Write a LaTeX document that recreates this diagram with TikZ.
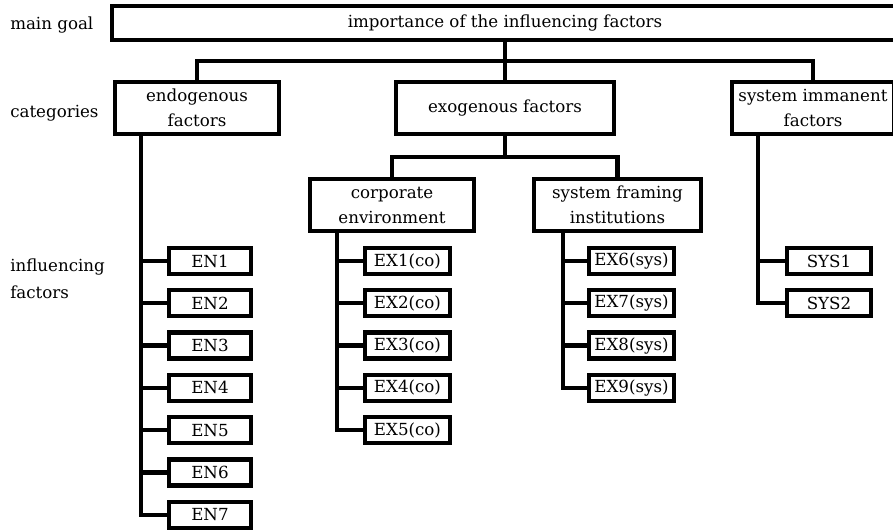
\documentclass[tikz,border=0pt]{standalone}
\usepackage{fontspec}
\setmainfont{DejaVu Serif}
\begin{document}
\begin{tikzpicture}[x=0.75pt,y=-0.75pt,
  box/.style={draw,line width=3.2pt,inner sep=0pt,align=center,font=\fontsize{12.5}{18.75}\selectfont},
  bx/.style 2 args={box,minimum width=#1*0.75pt,minimum height=#2*0.75pt},
  conn/.style={line width=3.2pt,line join=miter},
  lbl/.style={anchor=west,align=left,inner sep=0pt,font=\fontsize{12.5}{20}\selectfont}]
\clip (0,0) rectangle (893,531);
% labels
\node[lbl] (lmain) at (10,25) {main goal};
\node[lbl] (lcat) at (10,113) {categories};
\node[lbl] (linf) at (10,279) {influencing\\factors};
% main and categories
\node[bx={786}{34}] (main) at (505,23) {importance of the influencing factors};
\node[bx={164}{52}] (endo) at (197,108) {endogenous\\factors};
\node[bx={218}{52}] (exo) at (505,108) {exogenous factors};
\node[bx={162}{52}] (sysim) at (813,108) {system immanent\\factors};
\node[bx={164}{52}] (corp) at (392,205) {corporate\\environment};
\node[bx={167}{52}] (sysfr) at (617.5,205) {system framing\\institutions};
% leaves
\foreach \i in {1,...,7} \node[bx={82}{26}] (EN\i) at (210,{261+42.3*(\i-1)}) {EN\i};
\foreach \i in {1,...,5} \node[bx={85}{26}] (EX\i) at (407.5,{261+42.3*(\i-1)}) {EX\i(co)};
\foreach \i in {6,...,9} \node[bx={85}{26}] (EX\i) at (631.5,{261+42.3*(\i-6)}) {EX\i(sys)};
\foreach \i in {1,2} \node[bx={84}{26}] (SYS\i) at (829,{261+42.3*(\i-1)}) {SYS\i};
% connectors
\coordinate (bar1) at (505,61);
\coordinate (bar2) at (505,157);
\draw[conn] (main.south) -- (exo.north);
\draw[conn] (endo.north) |- (bar1) -| (sysim.north);
\draw[conn] (exo.south) -- (bar2);
\draw[conn] (corp.north) |- (bar2) -| (sysfr.north);
\coordinate (ent) at ([xshift=21pt]endo.south west);
\coordinate (cot) at ([xshift=21.75pt]corp.south west);
\coordinate (sft) at ([xshift=23.25pt]sysfr.south west);
\coordinate (sit) at ([xshift=21pt]sysim.south west);
\draw[conn] (ent) |- (EN7.west);
\foreach \i in {1,...,6} \draw[conn] (ent |- EN\i.west) -- (EN\i.west);
\draw[conn] (cot) |- (EX5.west);
\foreach \i in {1,...,4} \draw[conn] (cot |- EX\i.west) -- (EX\i.west);
\draw[conn] (sft) |- (EX9.west);
\foreach \i in {6,7,8} \draw[conn] (sft |- EX\i.west) -- (EX\i.west);
\draw[conn] (sit) |- (SYS2.west);
\draw[conn] (sit |- SYS1.west) -- (SYS1.west);
\end{tikzpicture}
\end{document}
